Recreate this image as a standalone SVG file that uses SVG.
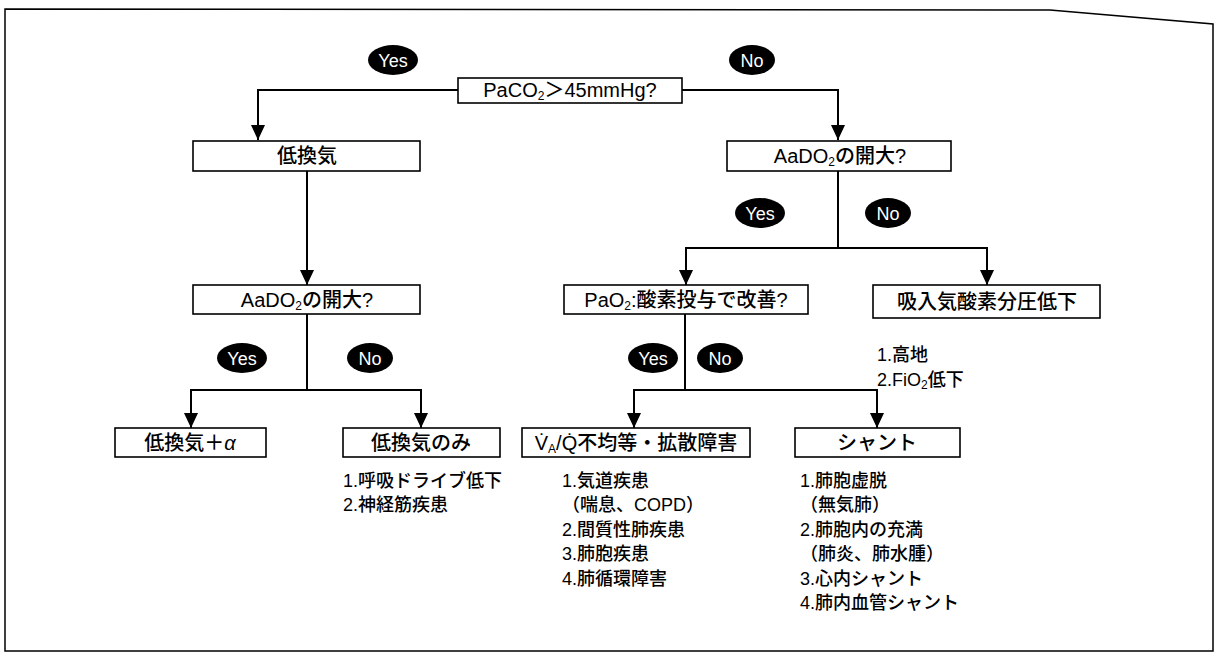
<svg xmlns="http://www.w3.org/2000/svg" width="1218" height="657" viewBox="0 0 1218 657">
<defs>
<marker id="arr" markerUnits="userSpaceOnUse" markerWidth="16" markerHeight="14" refX="15" refY="7" orient="auto" viewBox="0 0 16 14">
<path d="M0,0 L15,7 L0,14 Z" fill="#000"/>
</marker>
</defs>
<style>
.bg{fill:#fff}
.frame{fill:none;stroke:#000;stroke-width:1.5}
.box{fill:#fff;stroke:#000;stroke-width:1.6}
.t{font-family:"Liberation Sans","Noto Sans CJK JP",sans-serif;font-size:20px;font-weight:500;fill:#000}
.c{text-anchor:middle}
.l{font-family:"Liberation Sans","Noto Sans CJK JP",sans-serif;font-size:18px;font-weight:500;fill:#000}
.yn{fill:#000}
.ynt{font-family:"Liberation Sans",sans-serif;font-size:18px;fill:#fff;text-anchor:middle}
.con path{fill:none;stroke:#000;stroke-width:2}
.arr{marker-end:url(#arr)}
.sub{font-size:12px}
</style>
<rect class="bg" x="0" y="0" width="1218" height="657"/>
<path class="frame" d="M5,9 L1050,10 L1213,24 L1213,651 L5,651 Z"/>

<g class="con" id="connectors">
<path class="arr" d="M458,90 H258 V140"/>
<path class="arr" d="M682,90 H838 V140"/>
<path class="arr" d="M307,170 V285"/>
<path class="arr" d="M838,170 V248 H686 V285"/>
<path class="arr" d="M838,248 H987 V285"/>
<path class="arr" d="M307,314 V390 H191 V428"/>
<path class="arr" d="M307,390 H421 V428"/>
<path class="arr" d="M685,314 V390 H634 V428"/>
<path class="arr" d="M685,390 H877 V428"/>
</g>

<g id="yn1"><ellipse class="yn" cx="393" cy="60" rx="25" ry="15"/><text class="ynt" x="393" y="66.5">Yes</text></g>
<g id="no1"><ellipse class="yn" cx="752" cy="60" rx="23" ry="15"/><text class="ynt" x="752" y="66.5">No</text></g>
<g id="yn2"><ellipse class="yn" cx="760" cy="213" rx="25" ry="15"/><text class="ynt" x="760" y="219.5">Yes</text></g>
<g id="no2"><ellipse class="yn" cx="888" cy="213" rx="23" ry="15"/><text class="ynt" x="888" y="219.5">No</text></g>
<g id="yn3"><ellipse class="yn" cx="242" cy="358" rx="25" ry="15"/><text class="ynt" x="242" y="364.5">Yes</text></g>
<g id="no3"><ellipse class="yn" cx="370" cy="358" rx="23" ry="15"/><text class="ynt" x="370" y="364.5">No</text></g>
<g id="yn4"><ellipse class="yn" cx="653" cy="358" rx="25" ry="15"/><text class="ynt" x="653" y="364.5">Yes</text></g>
<g id="no4"><ellipse class="yn" cx="720" cy="358" rx="23" ry="15"/><text class="ynt" x="720" y="364.5">No</text></g>

<g id="n-paco2"><rect class="box" x="458" y="78" width="224" height="25"/>
<text class="t c" x="570" y="97">PaCO<tspan class="sub" dy="3">2</tspan><tspan dy="-3">＞45mmHg?</tspan></text></g>

<g id="n-hypo"><rect class="box" x="193" y="141" width="227" height="30"/>
<text class="t c" x="307" y="163">低換気</text></g>

<g id="n-aado2-r"><rect class="box" x="727" y="141" width="224" height="30"/>
<text class="t c" x="840" y="163">AaDO<tspan class="sub" dy="3">2</tspan><tspan dy="-3">の開大?</tspan></text></g>

<g id="n-aado2-l"><rect class="box" x="193" y="285" width="227" height="29"/>
<text class="t c" x="307" y="307">AaDO<tspan class="sub" dy="3">2</tspan><tspan dy="-3">の開大?</tspan></text></g>

<g id="n-pao2"><rect class="box" x="564" y="285" width="244" height="29"/>
<text class="t c" x="686" y="307">PaO<tspan class="sub" dy="3">2</tspan><tspan dy="-3">:酸素投与で改善?</tspan></text></g>

<g id="n-fio2"><rect class="box" x="873" y="285" width="227" height="33"/>
<text class="t c" x="987" y="309">吸入気酸素分圧低下</text>
<text class="l" x="877" y="361">1.高地</text>
<text class="l" x="877" y="386">2.FiO<tspan class="sub" dy="3">2</tspan><tspan dy="-3">低下</tspan></text></g>

<g id="n-alpha"><rect class="box" x="115" y="428" width="151" height="29"/>
<text class="t c" x="190" y="450">低換気＋<tspan font-style="italic">α</tspan></text></g>

<g id="n-only"><rect class="box" x="343" y="428" width="157" height="29"/>
<text class="t c" x="421" y="450">低換気のみ</text>
<text class="l" x="343" y="487">1.呼吸ドライブ低下</text>
<text class="l" x="343" y="511">2.神経筋疾患</text></g>

<g id="n-vq"><rect class="box" x="522" y="428" width="228" height="29"/>
<text class="t c" x="636" y="450">V&#x307;<tspan class="sub" dy="3">A</tspan><tspan dy="-3">/Q&#x307;不均等・拡散障害</tspan></text>
<text class="l" x="562" y="487">1.気道疾患</text>
<text class="l" x="562" y="511">（喘息、COPD）</text>
<text class="l" x="562" y="536">2.間質性肺疾患</text>
<text class="l" x="562" y="560">3.肺胞疾患</text>
<text class="l" x="562" y="585">4.肺循環障害</text></g>

<g id="n-shunt"><rect class="box" x="795" y="428" width="165" height="29"/>
<text class="t c" x="877" y="450">シャント</text>
<text class="l" x="800" y="487">1.肺胞虚脱</text>
<text class="l" x="800" y="511">（無気肺）</text>
<text class="l" x="800" y="536">2.肺胞内の充満</text>
<text class="l" x="800" y="560">（肺炎、肺水腫）</text>
<text class="l" x="800" y="585">3.心内シャント</text>
<text class="l" x="800" y="609">4.肺内血管シャント</text></g>
</svg>
